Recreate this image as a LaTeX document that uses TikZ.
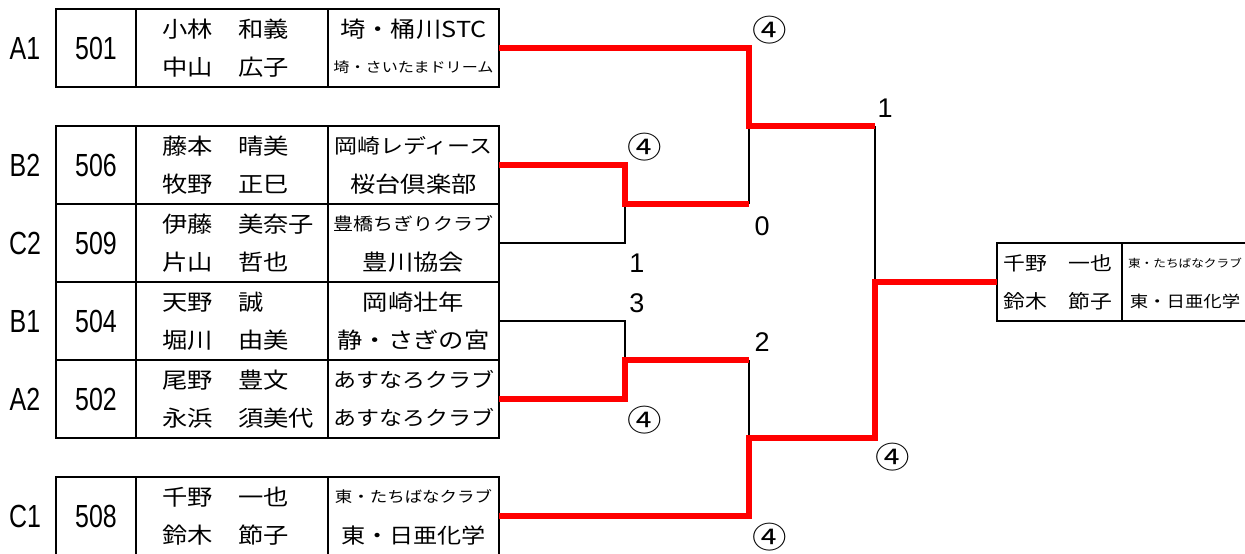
\documentclass[tikz,border=0pt]{standalone}
\usepackage{fontspec}
\setmainfont{Liberation Sans}
\newfontfamily\jp[FakeStretch=1.15]{Noto Sans CJK JP}
\newfontfamily\narrow[FakeStretch=0.78]{Liberation Sans}
\usetikzlibrary{positioning}

\begin{document}
\begin{tikzpicture}[x=1pt, y=-1pt,
            cell/.style={draw, line width=2.8pt, minimum height=78pt, inner sep=0pt, outer sep=0pt},
            numcell/.style={cell, minimum width=80pt, font=\narrow\fontsize{32}{32}\selectfont},
            namecell/.style={cell, minimum width=192pt},
            clubcell/.style={cell, minimum width=171pt},
            grp/.style={inner sep=0pt, font=\narrow\fontsize{32}{32}\selectfont},
            nm/.style={anchor=west, inner sep=0pt, font=\jp\fontsize{#1}{#1}\selectfont}, nm/.default=22,
            club/.style={inner sep=0pt, font=\jp\fontsize{#1}{#1}\selectfont}, club/.default=22,
            score/.style={inner sep=0pt, font=\fontsize{27}{27}\selectfont},
            circ/.style={inner sep=0pt, font=\jp\fontsize{30}{30}\selectfont},
            win/.style={draw=red, line width=6pt},
            lose/.style={draw=black, line width=2pt}
        ]
            \useasboundingbox (0,0) rectangle (1245,554);

            \node[grp] (gA1) at (25,48) {A1};
            \node[numcell] (c501) at (96,48) {501};
            \node[namecell, right=0pt of c501] (p501) {};
            \node[clubcell, right=0pt of p501] (t501) {};
            \node[nm] (p501a) at ([xshift=26pt,yshift=19pt]p501.west) {小林　和義};
            \node[nm] (p501b) at ([xshift=26pt,yshift=-19pt]p501.west) {中山　広子};
            \node[club] (t501a) at ([yshift=19pt]t501.center) {埼・桶川STC};
            \node[club=14] (t501b) at ([yshift=-19pt]t501.center) {埼・さいたまドリーム};

            \node[grp] (gB2) at (25,165) {B2};
            \node[numcell] (c506) at (96,165) {506};
            \node[namecell, right=0pt of c506] (p506) {};
            \node[clubcell, right=0pt of p506] (t506) {};
            \node[nm] (p506a) at ([xshift=26pt,yshift=19pt]p506.west) {藤本　晴美};
            \node[nm] (p506b) at ([xshift=26pt,yshift=-19pt]p506.west) {牧野　正巳};
            \node[club=20] (t506a) at ([yshift=19pt]t506.center) {岡崎レディース};
            \node[club] (t506b) at ([yshift=-19pt]t506.center) {桜台倶楽部};

            \node[grp] (gC2) at (25,243) {C2};
            \node[numcell, below=0pt of c506] (c509) {509};
            \node[namecell, right=0pt of c509] (p509) {};
            \node[clubcell, right=0pt of p509] (t509) {};
            \node[nm] (p509a) at ([xshift=26pt,yshift=19pt]p509.west) {伊藤　美奈子};
            \node[nm] (p509b) at ([xshift=26pt,yshift=-19pt]p509.west) {片山　哲也};
            \node[club=17.4] (t509a) at ([yshift=19pt]t509.center) {豊橋ちぎりクラブ};
            \node[club] (t509b) at ([yshift=-19pt]t509.center) {豊川協会};

            \node[grp] (gB1) at (25,321) {B1};
            \node[numcell, below=0pt of c509] (c504) {504};
            \node[namecell, right=0pt of c504] (p504) {};
            \node[clubcell, right=0pt of p504] (t504) {};
            \node[nm] (p504a) at ([xshift=26pt,yshift=19pt]p504.west) {天野　誠};
            \node[nm] (p504b) at ([xshift=26pt,yshift=-19pt]p504.west) {堀川　由美};
            \node[club] (t504a) at ([yshift=19pt]t504.center) {岡崎壮年};
            \node[club] (t504b) at ([yshift=-19pt]t504.center) {静・さぎの宮};

            \node[grp] (gA2) at (25,399) {A2};
            \node[numcell, below=0pt of c504] (c502) {502};
            \node[namecell, right=0pt of c502] (p502) {};
            \node[clubcell, right=0pt of p502] (t502) {};
            \node[nm] (p502a) at ([xshift=26pt,yshift=19pt]p502.west) {尾野　豊文};
            \node[nm] (p502b) at ([xshift=26pt,yshift=-19pt]p502.west) {永浜　須美代};
            \node[club=20] (t502a) at ([yshift=19pt]t502.center) {あすなろクラブ};
            \node[club=20] (t502b) at ([yshift=-19pt]t502.center) {あすなろクラブ};

            \node[grp] (gC1) at (25,516) {C1};
            \node[numcell] (c508) at (96,516) {508};
            \node[namecell, right=0pt of c508] (p508) {};
            \node[clubcell, right=0pt of p508] (t508) {};
            \node[nm] (p508a) at ([xshift=26pt,yshift=19pt]p508.west) {千野　一也};
            \node[nm] (p508b) at ([xshift=26pt,yshift=-19pt]p508.west) {鈴木　節子};
            \node[club=15.2] (t508a) at ([yshift=19pt]t508.center) {東・たちばなクラブ};
            \node[club=21] (t508b) at ([yshift=-19pt]t508.center) {東・日亜化学};

            \node[cell, minimum width=125pt] (w) at (1059.5,282) {};
            \node[cell, minimum width=128pt, right=0pt of w] (wc) {};
            \node[nm=19] (wa) at ([xshift=6pt,yshift=19pt]w.west) {千野　一也};
            \node[nm=19] (wb) at ([xshift=6pt,yshift=-19pt]w.west) {鈴木　節子};
            \node[club=11] (wca) at ([xshift=-1pt,yshift=19pt]wc.center) {東・たちばなクラブ};
            \node[club=16] (wcb) at ([xshift=-1pt,yshift=-19pt]wc.center) {東・日亜化学};

            \coordinate (q1) at (625,204);
            \coordinate (q1r) at (749,204);
            \coordinate (q2) at (625,360);
            \coordinate (q2r) at (749,360);
            \coordinate (p1) at (749,126);
            \coordinate (p2) at (749,438);
            \coordinate (f1) at (875,126);
            \coordinate (f2) at (875,438);

            \draw[lose] (t509.east) -| (q1);
            \draw[lose] (q1r) -- (p1);
            \draw[lose] (t504.east) -| (q2);
            \draw[lose] (q2r) -- (p2);
            \draw[lose] (f1) -- (f1 |- w.west);

            \draw[win] (t501.east) -| (p1) -- (f1);
            \draw[win] (t506.east) -| (q1) -- (q1r);
            \draw[win] (t502.east) -| (q2) -- (q2r);
            \draw[win] (t508.east) -| (p2) -- (f2) |- (w.west);

            \node[circ] (sA1) at (770,30) {④};
            \node[score] (sF1) at (885,108) {1};
            \node[circ] (sB2) at (645,147) {④};
            \node[score] (sS1) at (762,226) {0};
            \node[score] (sC2) at (637,263) {1};
            \node[score] (sB1) at (637,303) {3};
            \node[score] (sS2) at (762,342) {2};
            \node[circ] (sA2) at (645,420) {④};
            \node[circ] (sF2) at (893,457) {④};
            \node[circ] (sC1) at (770,537) {④};
        \end{tikzpicture}
\end{document}
